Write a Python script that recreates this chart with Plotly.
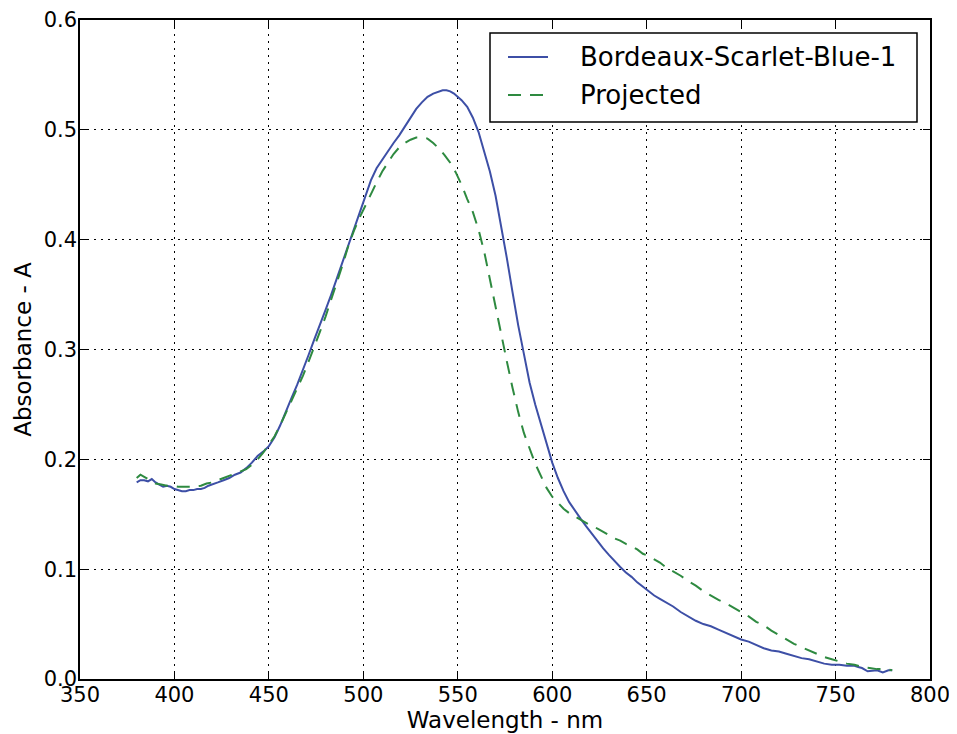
import plotly.graph_objects as go

# ---- data ----
blue_wl = [380, 382, 384, 386, 388, 390, 392, 394, 396, 398, 400, 402, 404, 406, 408, 410, 412, 414, 416, 418,
           420, 423, 426, 429, 432, 435, 438, 441, 444, 447, 450, 453, 456, 459, 462, 465, 468, 471, 474, 477,
           480, 483, 486, 489, 492, 495, 498, 501, 504, 507, 510, 513, 516, 519, 522, 525, 528, 531, 534, 537,
           540, 542, 544, 546, 548, 550, 552, 555, 558, 561, 564, 567, 570, 573, 576, 579, 582, 585, 588, 591,
           594, 597, 600, 603, 606, 609, 612, 615, 618, 621, 624, 627, 630, 633, 636, 639, 642, 645, 648, 651,
           654, 657, 660, 664, 668, 672, 676, 680, 684, 688, 692, 696, 700, 704, 708, 712, 716, 720, 724, 728,
           732, 736, 740, 744, 748, 752, 756, 760, 762, 764, 767, 770, 772, 775, 778, 780]
blue_abs = [0.179, 0.181, 0.181, 0.180, 0.182, 0.179, 0.177, 0.175, 0.176, 0.175, 0.173, 0.172, 0.171, 0.171, 0.172, 0.172, 0.173, 0.173, 0.174, 0.176,
            0.177, 0.179, 0.181, 0.183, 0.186, 0.188, 0.192, 0.197, 0.203, 0.207, 0.212, 0.220, 0.231, 0.244, 0.256, 0.268, 0.281, 0.295, 0.309, 0.322,
            0.336, 0.350, 0.365, 0.381, 0.396, 0.410, 0.426, 0.441, 0.454, 0.465, 0.473, 0.481, 0.488, 0.495, 0.503, 0.512, 0.519, 0.525, 0.530, 0.533,
            0.535, 0.536, 0.536, 0.535, 0.533, 0.530, 0.527, 0.521, 0.511, 0.498, 0.481, 0.462, 0.440, 0.413, 0.383, 0.352, 0.322, 0.296, 0.270, 0.250,
            0.232, 0.214, 0.197, 0.183, 0.171, 0.161, 0.153, 0.146, 0.139, 0.132, 0.126, 0.119, 0.113, 0.107, 0.102, 0.097, 0.093, 0.088, 0.084, 0.080,
            0.076, 0.073, 0.070, 0.066, 0.061, 0.057, 0.053, 0.050, 0.048, 0.045, 0.042, 0.039, 0.036, 0.034, 0.031, 0.028, 0.026, 0.025, 0.023, 0.021,
            0.019, 0.018, 0.016, 0.014, 0.013, 0.013, 0.012, 0.012, 0.011, 0.010, 0.007, 0.008, 0.008, 0.006, 0.008, 0.008]

proj_wl = [380, 382, 384, 386, 388, 390, 393, 396, 399, 402, 405, 408, 411, 414, 417, 420, 423, 426, 429, 432,
           435, 438, 441, 444, 447, 450, 453, 456, 459, 462, 465, 468, 471, 474, 477, 480, 483, 486, 489, 492,
           495, 498, 501, 504, 507, 510, 513, 516, 519, 522, 525, 528, 531, 534, 537, 540, 543, 546, 549, 552,
           555, 558, 561, 564, 567, 570, 573, 576, 579, 582, 585, 588, 591, 594, 597, 600, 603, 606, 609, 612,
           615, 618, 621, 624, 627, 630, 633, 636, 639, 642, 645, 648, 651, 654, 657, 660, 664, 668, 672, 676,
           680, 684, 688, 692, 696, 700, 704, 708, 712, 716, 720, 724, 728, 732, 736, 740, 744, 748, 752, 756,
           760, 764, 768, 772, 776, 780]
proj_abs = [0.183, 0.186, 0.184, 0.182, 0.180, 0.178, 0.177, 0.176, 0.176, 0.175, 0.175, 0.175, 0.175, 0.176, 0.178, 0.179, 0.181, 0.183, 0.185, 0.187,
            0.189, 0.191, 0.195, 0.200, 0.206, 0.213, 0.221, 0.231, 0.242, 0.254, 0.265, 0.276, 0.289, 0.302, 0.316, 0.330, 0.345, 0.360, 0.377, 0.394,
            0.408, 0.420, 0.431, 0.441, 0.452, 0.462, 0.470, 0.478, 0.484, 0.488, 0.491, 0.493, 0.493, 0.492, 0.488, 0.483, 0.477, 0.470, 0.461, 0.450,
            0.437, 0.425, 0.409, 0.389, 0.364, 0.338, 0.313, 0.289, 0.265, 0.243, 0.224, 0.209, 0.196, 0.185, 0.174, 0.166, 0.160, 0.155, 0.151, 0.148,
            0.145, 0.142, 0.139, 0.137, 0.134, 0.131, 0.128, 0.126, 0.123, 0.121, 0.118, 0.114, 0.112, 0.109, 0.106, 0.102, 0.098, 0.094, 0.089, 0.085,
            0.080, 0.076, 0.072, 0.069, 0.065, 0.061, 0.057, 0.052, 0.049, 0.044, 0.040, 0.036, 0.032, 0.029, 0.026, 0.023, 0.020, 0.018, 0.016, 0.014,
            0.013, 0.011, 0.010, 0.009, 0.009, 0.008]

series_names = ["Bordeaux-Scarlet-Blue-1", "Projected"]
x_title = "Wavelength - nm"
y_title = "Absorbance - A"

BLUE = "#3d4fa6"
GREEN = "#2e8a40"
FONT = "DejaVu Sans"

fig = go.Figure()
fig.add_trace(go.Scatter(x=blue_wl, y=blue_abs, mode="lines", name=series_names[0],
                         line=dict(color=BLUE, width=2)))
fig.add_trace(go.Scatter(x=proj_wl, y=proj_abs, mode="lines", name=series_names[1],
                         line=dict(color=GREEN, width=2, dash="13px,9px")))

axis_common = dict(
    showline=True, mirror="ticks", linecolor="black", linewidth=1.5,
    ticks="inside", ticklen=7, tickcolor="black", tickwidth=1,
    showgrid=True, gridcolor="black", gridwidth=1, griddash="2px,5px",
    zeroline=False, tickfont=dict(family=FONT, size=21, color="black"),
)

fig.update_xaxes(range=[350, 800], dtick=50, tick0=350, ticklabelstandoff=-4, **axis_common,
                 title=dict(text=x_title, font=dict(family=FONT, size=23, color="black"), standoff=4))
fig.update_yaxes(range=[0, 0.6], dtick=0.1, tick0=0, tickformat=".1f", ticklabelstandoff=-3, **axis_common,
                 title=dict(text=y_title, font=dict(family=FONT, size=23, color="black"), standoff=6))

# legend box drawn in paper coordinates (reference pixel positions of the plot area: x 80..930, y 20..679)
def px2x(p):
    return (p - 80) / 850.0

def py2y(p):
    return (679 - p) / 659.0

shapes = [
    dict(type="rect", xref="paper", yref="paper", x0=px2x(490), x1=px2x(917), y0=py2y(122), y1=py2y(33),
         line=dict(color="black", width=1.5), fillcolor="white", layer="above"),
    dict(type="line", xref="paper", yref="paper", x0=px2x(508), x1=px2x(548), y0=py2y(57), y1=py2y(57),
         line=dict(color=BLUE, width=2), layer="above"),
    dict(type="line", xref="paper", yref="paper", x0=px2x(508), x1=px2x(548), y0=py2y(95), y1=py2y(95),
         line=dict(color=GREEN, width=2, dash="13px,9px"), layer="above"),
]
annotations = [
    dict(xref="paper", yref="paper", x=px2x(578), y=py2y(57), text=series_names[0], showarrow=False,
         xanchor="left", yanchor="middle", font=dict(family=FONT, size=26, color="black")),
    dict(xref="paper", yref="paper", x=px2x(578), y=py2y(95), text=series_names[1], showarrow=False,
         xanchor="left", yanchor="middle", font=dict(family=FONT, size=26, color="black")),
]

# page body adds an 8px offset, so margins are shifted by 8px
fig.update_layout(
    width=957, height=734,
    margin=dict(l=72, r=35, t=12, b=63, autoexpand=False),
    paper_bgcolor="white", plot_bgcolor="white",
    showlegend=False,
    shapes=shapes, annotations=annotations,
    font=dict(family=FONT, color="black"),
)

fig.write_html("out.html")
